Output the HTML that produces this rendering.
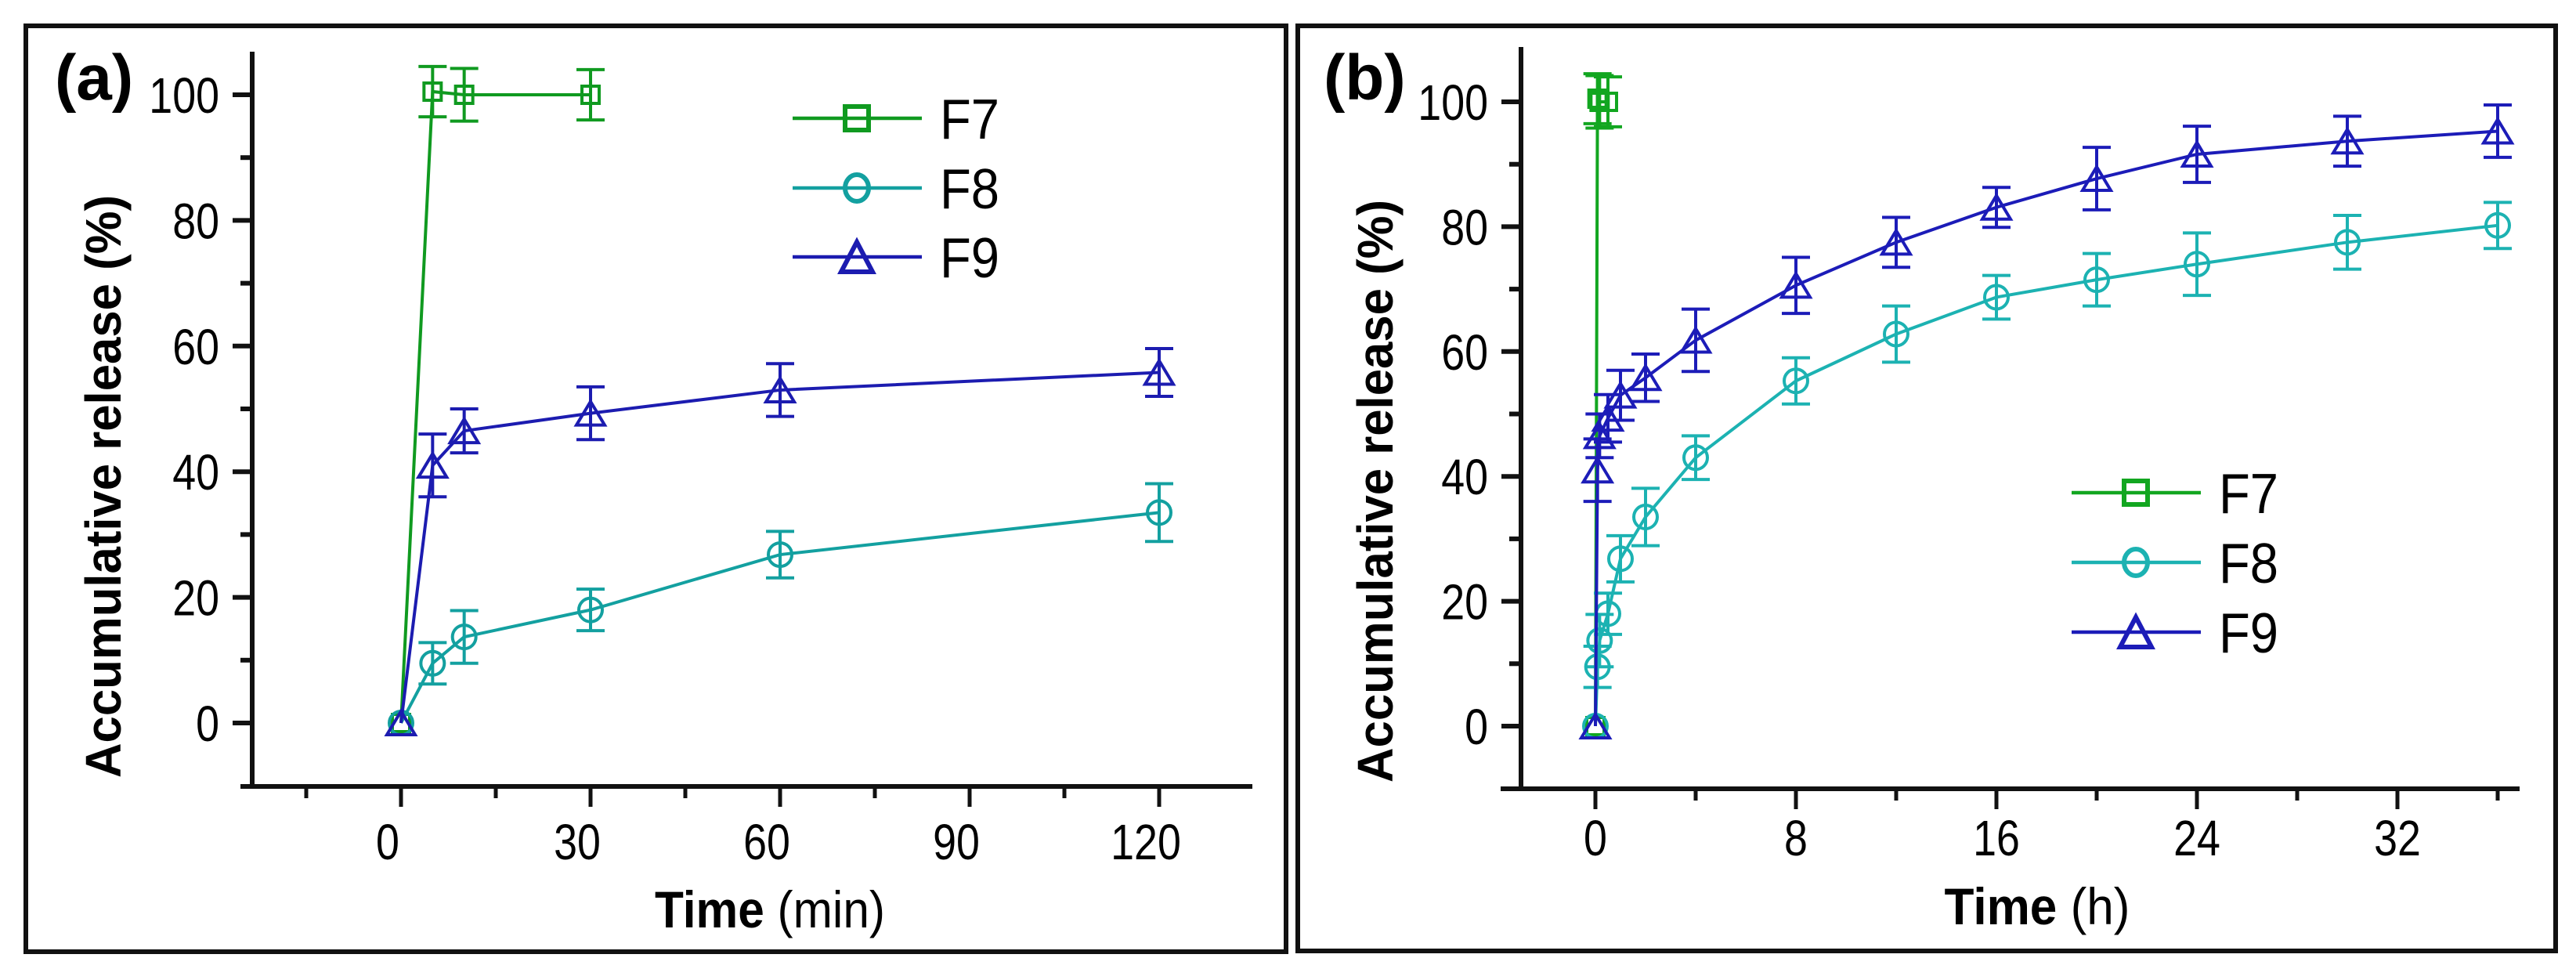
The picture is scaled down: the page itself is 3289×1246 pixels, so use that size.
<!DOCTYPE html>
<html><head><meta charset="utf-8"><style>
html,body{margin:0;padding:0;background:#fff;}
svg{display:block;font-family:"Liberation Sans",Arial,sans-serif;}
</style></head><body>
<svg id="chart" width="3289" height="1246" viewBox="0 0 3289 1246" xmlns="http://www.w3.org/2000/svg">
<rect x="0" y="0" width="3289" height="1246" fill="#fff"/>
<rect x="33" y="33" width="1609" height="1182" fill="none" stroke="#111" stroke-width="6"/>
<rect x="1657" y="33" width="1606" height="1181" fill="none" stroke="#111" stroke-width="6"/>
<text x="70" y="127" font-size="82" font-weight="bold">(a)</text>
<text x="1690" y="127" font-size="82" font-weight="bold">(b)</text>
<text transform="translate(154,621) rotate(-90)" text-anchor="middle" font-size="64" font-weight="bold" textLength="744" lengthAdjust="spacingAndGlyphs">Accumulative release (%)</text>
<text transform="translate(1778,627) rotate(-90)" text-anchor="middle" font-size="64" font-weight="bold" textLength="744" lengthAdjust="spacingAndGlyphs">Accumulative release (%)</text>
<text x="983" y="1184" text-anchor="middle" font-size="66" textLength="294" lengthAdjust="spacingAndGlyphs"><tspan font-weight="bold">Time</tspan> (min)</text>
<text x="2601" y="1180" text-anchor="middle" font-size="66" textLength="237" lengthAdjust="spacingAndGlyphs"><tspan font-weight="bold">Time</tspan> (h)</text>
<g id="plots"></g>
</svg>
<script>
// Panel (a) data (minutes)
const timeA = [0, 5, 10, 30, 60, 120];
const f7TimeA = [0, 5, 10, 30];
const f7ValA = [0, 100.5, 100, 100];
const f7ErrA = [0, 4, 4.2, 4];
const f8ValA = [0, 9.5, 13.7, 18, 26.8, 33.5];
const f8ErrA = [0, 3.3, 4.2, 3.3, 3.7, 4.6];
const f9ValA = [0, 41, 46.5, 49.3, 53, 55.8];
const f9ErrA = [0, 5, 3.5, 4.2, 4.2, 3.8];
const xTicksA = [0, 30, 60, 90, 120];
// Panel (b) data (hours)
const timeB = [0, 0.083, 0.167, 0.5, 1, 2, 4, 8, 12, 16, 20, 24, 30, 36];
const f7TimeB = [0, 0.083, 0.167, 0.5];
const f7ValB = [0, 100.5, 100, 100];
const f7ErrB = [0, 4, 4.2, 4];
const f8ValB = [0, 9.5, 13.7, 18, 26.8, 33.5, 43, 55.3, 62.8, 68.7, 71.5, 74, 77.5, 80.2];
const f8ErrB = [0, 3.3, 4.2, 3.3, 3.7, 4.6, 3.5, 3.7, 4.5, 3.5, 4.2, 5, 4.3, 3.7];
const f9ValB = [0, 41, 46.5, 49.3, 53, 55.8, 61.8, 70.6, 77.5, 83.1, 87.7, 91.6, 93.7, 95.3];
const f9ErrB = [0, 5, 3.5, 3.8, 4, 3.8, 5, 4.5, 4, 3.2, 5, 4.5, 4, 4.2];
const xTicksB = [0, 8, 16, 24, 32];
const yTicks = [0, 20, 40, 60, 80, 100];
const seriesNames = ['F7', 'F8', 'F9'];

const NS = 'http://www.w3.org/2000/svg';
const root = document.getElementById('plots');
function mk(tag, attrs, parent) {
  const e = document.createElementNS(NS, tag);
  for (const k in attrs) e.setAttribute(k, attrs[k]);
  (parent || root).appendChild(e);
  return e;
}
function marker(g, type, cx, cy, color, big) {
  const sw = big ? 6 : 4;
  let m;
  if (type === 'square') {
    const s = big ? 30 : 22;
    m = mk('rect', {x: cx - s/2, y: cy - s/2, width: s, height: s, fill: 'none', stroke: color, 'stroke-width': sw}, g);
  } else if (type === 'circle') {
    m = mk('ellipse', {cx: cx, cy: cy, rx: big ? 15 : 15, ry: big ? 17 : 15, fill: 'none', stroke: color, 'stroke-width': sw}, g);
  } else {
    const w = big ? 40 : 36, h = big ? 38 : 30;
    m = mk('polygon', {points: (cx - w/2) + ',' + (cy + h/2) + ' ' + (cx + w/2) + ',' + (cy + h/2) + ' ' + cx + ',' + (cy - h/2), fill: 'none', stroke: color, 'stroke-width': sw}, g);
  }
  return m;
}
function panel(cfg) {
  const X = v => cfg.x0 + v * cfg.xs;
  const Y = v => cfg.y0 - v * cfg.ys;
  const g = mk('g', {});
  
  
  const ya = mk('line', {x1: cfg.axX, y1: cfg.axTop, x2: cfg.axX, y2: cfg.axY + 2, stroke: '#111', 'stroke-width': 6}, g);
  
  
  const xa = mk('line', {x1: cfg.axLeft, y1: cfg.axY, x2: cfg.axRight, y2: cfg.axY, stroke: '#111', 'stroke-width': 6}, g);
  
  
  yTicks.forEach(t => {
    mk('line', {x1: cfg.axX - 25, y1: Y(t), x2: cfg.axX, y2: Y(t), stroke: '#111', 'stroke-width': 6}, g);
    if (t < 100) mk('line', {x1: cfg.axX - 15, y1: Y(t + 10), x2: cfg.axX, y2: Y(t + 10), stroke: '#111', 'stroke-width': 6}, g);
    const tl = mk('text', {x: 0, y: 0, 'font-size': 64, 'text-anchor': 'end', transform: 'translate(' + (cfg.axX - 42) + ',' + (Y(t) + 23) + ') scale(0.84,1)'}, g);
    tl.textContent = t;
    
    
  });
  const step = cfg.xTicks[1] - cfg.xTicks[0];
  for (let v = cfg.minorStart; v <= cfg.xMax + 0.001; v += step / 2) {
    const major = cfg.xTicks.some(t => Math.abs(t - v) < 1e-6);
    mk('line', {x1: X(v), y1: cfg.axY, x2: X(v), y2: cfg.axY + (major ? 26 : 15), stroke: '#111', 'stroke-width': 5}, g);
  }
  cfg.xTicks.forEach(t => {
    const tl = mk('text', {x: 0, y: 0, 'font-size': 64, 'text-anchor': 'middle', transform: 'translate(' + (X(t) + cfg.labShift) + ',' + cfg.xLabY + ') scale(0.84,1)'}, g);
    tl.textContent = t;
    
    
  });
  cfg.series.forEach((s, si) => {
    const sg = mk('g', {}, g);
    
    
    const pts = s.t.map((t, i) => X(t) + ',' + Y(s.v[i])).join(' ');
    const pl = mk('polyline', {points: pts, fill: 'none', stroke: s.color, 'stroke-width': 4}, sg);
    
    
    s.t.forEach((t, i) => {
      if (s.e[i] > 0) {
        const cx = X(t), hi = Y(s.v[i] + s.e[i]), lo = Y(s.v[i] - s.e[i]);
        const eb = mk('path', {d: 'M' + cx + ' ' + hi + 'V' + lo + 'M' + (cx - 18) + ' ' + hi + 'H' + (cx + 18) + 'M' + (cx - 18) + ' ' + lo + 'H' + (cx + 18), stroke: s.color, 'stroke-width': 4, fill: 'none'}, sg);
        
        
      }
      const m = marker(sg, s.type, X(t), Y(s.v[i]), s.color, false);
      
      
    });
  });
  cfg.series.forEach((s, si) => {
    const ly = cfg.legY[si];
    const lg = mk('g', {}, g);
    
    
    mk('line', {x1: cfg.legX, y1: ly, x2: cfg.legX + 165, y2: ly, stroke: s.color, 'stroke-width': 4.5}, lg);
    marker(lg, s.type, cfg.legX + 82, ly, s.color, true);
    const tx = mk('text', {x: cfg.legX + 188, y: ly + 26, 'font-size': 72, textLength: 76, lengthAdjust: 'spacingAndGlyphs'}, lg);
    tx.textContent = seriesNames[si];
  });
}
panel({
  id: 'panel-a', x0: 512, xs: 242 / 30, y0: 923, ys: 8.02,
  axX: 322, axTop: 66, axY: 1004, axLeft: 307, axRight: 1599,
  xTicks: xTicksA, xMax: 120, minorStart: -15, labShift: -17, xLabY: 1097,
  legX: 1012, legY: [151, 240, 328],
  series: [
    {t: f7TimeA, v: f7ValA, e: f7ErrA, color: '#109a20', type: 'square'},
    {t: timeA, v: f8ValA, e: f8ErrA, color: '#13a0a0', type: 'circle'},
    {t: timeA, v: f9ValA, e: f9ErrA, color: '#1c1cb0', type: 'triangle'}
  ]
});
panel({
  id: 'panel-b', x0: 2037, xs: 32, y0: 927, ys: 7.97,
  axX: 1942, axTop: 60, axY: 1007, axLeft: 1916, axRight: 3217,
  xTicks: xTicksB, xMax: 36, minorStart: 0, labShift: 0, xLabY: 1092,
  legX: 2645, legY: [629, 718, 807],
  series: [
    {t: f7TimeB, v: f7ValB, e: f7ErrB, color: '#12a620', type: 'square'},
    {t: timeB, v: f8ValB, e: f8ErrB, color: '#1cb2b2', type: 'circle'},
    {t: timeB, v: f9ValB, e: f9ErrB, color: '#1c1cb8', type: 'triangle'}
  ]
});
</script>
</body></html>
